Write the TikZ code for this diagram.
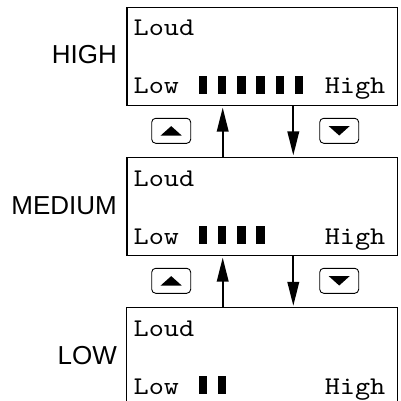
\documentclass[tikz,border=0pt]{standalone}
\usepackage{fontspec}
\setmainfont{Liberation Sans}
\newfontfamily\lcdmono[FakeStretch=1.13]{lmmono10-regular.otf}
\usetikzlibrary{arrows.meta}
\begin{document}
\begin{tikzpicture}[x=1pt,y=-1pt,
  lcd/.style={draw,line width=1.3pt,minimum width=270.5pt,minimum height=98pt,inner sep=0pt},
  lcdopen/.style={minimum width=270.5pt,minimum height=98pt,inner sep=0pt},
  lvl/.style={anchor=base east,inner sep=0pt,font=\fontsize{26}{30}\selectfont},
  mono/.style={inner sep=0pt,font=\lcdmono\fontsize{25.5}{30}\selectfont},
  bar/.style={fill=black,inner sep=0pt,minimum width=8.4pt,minimum height=18pt,anchor=south west},
  btn/.style={draw,line width=0.9pt,rounded corners=4pt,minimum width=39pt,minimum height=25pt,inner sep=0pt},
  arr/.style={line width=1.8pt,-{Triangle[length=24pt,width=11.6pt]}}
]
\useasboundingbox (0,0) rectangle (400,401);

% boxes
\node[lcd] (hbox) at (262.25,56.5) {};
\node[lcd] (mbox) at (262.25,206.5) {};
\node[lcdopen] (lbox) at (262.25,356.5) {};
\draw[line width=1.3pt] (lbox.south west) -- (lbox.north west) -- (lbox.north east) -- (lbox.south east);

% level labels
\node[lvl] (hlab) at (117,64) {HIGH};
\node[lvl] (mlab) at (117,214) {MEDIUM};
\node[lvl] (llab) at (117,364) {LOW};

% LCD texts
\foreach \n/\y in {h/0,m/150,l/300}{
  \node[mono,anchor=base west] (\n loud) at (133.5,36+\y) {Loud};
  \node[mono,anchor=base west] (\n low) at (133.5,94+\y) {Low};
  \node[mono,anchor=base east] (\n high) at (385.5,94+\y) {High};
}

% bars
\foreach \i in {0,...,5}{\node[bar] (hb\i) at (198.3+19.3*\i,94.3) {};}
\foreach \i in {0,...,3}{\node[bar] (mb\i) at (198.3+19.3*\i,244.3) {};}
\foreach \i in {0,...,1}{\node[bar] (lb\i) at (198.3+19.3*\i,394.3) {};}

% buttons and arrows
\foreach \n/\m/\y in {h/m/0,m/l/150}{
  \node[btn] (\n up) at (171.2,130.8+\y) {};
  \fill (\n up.center) ++(-10.5,4.7) -- ++(21,0) -- ++(-10.5,-9.4) -- cycle;
  \node[btn] (\n dn) at (339.2,130.8+\y) {};
  \fill (\n dn.center) ++(-10.5,-4.7) -- ++(21,0) -- ++(-10.5,9.4) -- cycle;
  \coordinate (\n ux) at (222.7,0);
  \coordinate (\n dx) at (293.3,0);
  \draw[arr] (\m box.north -| \n ux) -- ([yshift=-1.5pt]\n box.south -| \n ux);
  \draw[arr] (\n box.south -| \n dx) -- ([yshift=1.5pt]\m box.north -| \n dx);
}
\end{tikzpicture}
\end{document}
